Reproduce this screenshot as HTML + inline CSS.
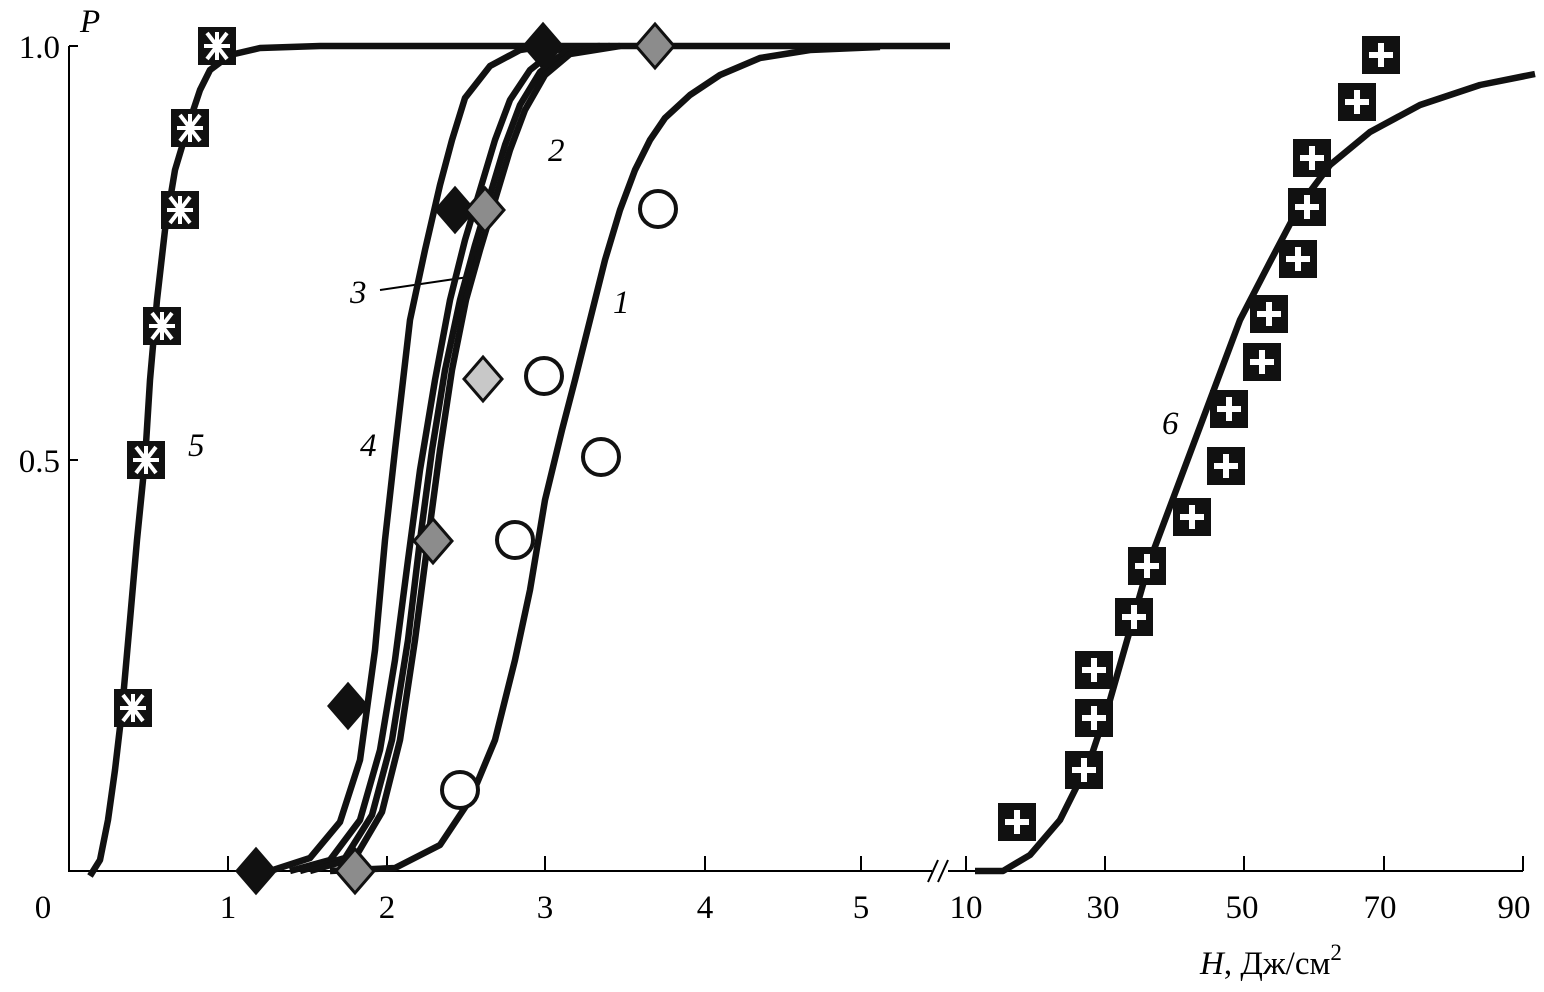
<!DOCTYPE html>
<html><head><meta charset="utf-8"><style>
body{margin:0;background:#fff}
text{font-family:"Liberation Serif",serif;font-size:33px;fill:#000}
.i{font-style:italic}
</style></head><body>
<svg width="1544" height="987" viewBox="0 0 1544 987" xmlns="http://www.w3.org/2000/svg">
<defs>
<g id="sq"><rect x="-19" y="-19" width="38" height="38" fill="#111"/><path d="M-12 0H12M0-12V12" stroke="#fff" stroke-width="6"/></g>
<g id="zh"><rect x="-19" y="-19" width="38" height="38" fill="#111"/><path d="M0-14V14M-10-13L10 13M10-13L-10 13M-13 0H13" stroke="#fff" stroke-width="4"/></g>
<path id="dm" d="M0-22L19 0 0 22-19 0Z" stroke="#111" stroke-width="3"/>
</defs>
<g stroke="#000" stroke-width="2" fill="none">
<path d="M69 46H78M69 46V871H932M948 871H1523M69 460H78"/>
<path d="M228 871V856M387 871V856M545 871V856M705 871V856M861 871V856M966 871V856M1105 871V856M1244 871V856M1384 871V856M1523 871V856"/>
<path d="M928 882L938 860M938 882L948 860"/>
</g>
<text x="60" y="58" text-anchor="end">1.0</text>
<text x="60" y="472" text-anchor="end">0.5</text>
<text x="43" y="918" text-anchor="middle">0</text>
<text x="228" y="918" text-anchor="middle">1</text>
<text x="387" y="918" text-anchor="middle">2</text>
<text x="545" y="918" text-anchor="middle">3</text>
<text x="705" y="918" text-anchor="middle">4</text>
<text x="861" y="918" text-anchor="middle">5</text>
<text x="966" y="918" text-anchor="middle">10</text>
<text x="1103" y="918" text-anchor="middle">30</text>
<text x="1242" y="918" text-anchor="middle">50</text>
<text x="1380" y="918" text-anchor="middle">70</text>
<text x="1514" y="918" text-anchor="middle">90</text>
<text x="1200" y="974"><tspan class="i">H</tspan>, Дж/см<tspan dy="-14" font-size="23">2</tspan></text>
<text x="80" y="32" class="i">P</text>
<text x="188" y="456" class="i">5</text>
<text x="360" y="456" class="i">4</text>
<text x="350" y="303" class="i">3</text>
<path d="M380 290L475 276" stroke="#000" stroke-width="2"/>
<text x="548" y="161" class="i">2</text>
<text x="613" y="313" class="i">1</text>
<text x="1162" y="434" class="i">6</text>
<g stroke="#111" stroke-width="6.5" fill="none" stroke-linejoin="round">
<path d="M90 876L100 860 108 820 115 770 122 710 130 620 137 540 145 460 150 380 157 300 165 230 175 170 190 120 200 90 210 70 230 55 260 48 320 46 950 46"/>
<path d="M270 871L310 858 340 822 360 760 375 650 385 540 395 450 410 320 425 250 440 185 452 140 465 98 490 66 520 50 545 46"/>
<path d="M290 871L330 860 360 820 380 750 395 660 408 560 420 470 435 380 450 300 465 240 480 190 495 140 510 100 530 70 555 50 600 46"/>
<path d="M300 871L345 858 372 815 392 740 408 640 420 540 432 450 445 370 460 300 475 245 490 195 505 145 520 105 540 72 565 52 610 46"/>
<path d="M310 871L355 858 382 812 400 740 415 640 428 540 440 450 452 370 466 300 480 250 495 200 510 150 525 110 545 75 570 54 620 46"/>
<path d="M330 871L395 868 440 845 470 800 495 740 515 660 530 590 545 500 562 430 575 380 590 320 605 260 620 210 635 170 650 140 665 118 690 95 720 75 760 58 810 50 880 47"/>
<path d="M975 871L1003 871 1030 855 1060 820 1090 760 1110 700 1130 630 1150 560 1180 480 1210 400 1240 320 1270 262 1300 205 1330 165 1370 132 1420 105 1480 85 1535 74"/>
</g>
<g>
<use href="#sq" x="1017" y="822"/><use href="#sq" x="1084" y="770"/><use href="#sq" x="1094" y="718"/><use href="#sq" x="1094" y="670"/><use href="#sq" x="1134" y="617"/><use href="#sq" x="1147" y="566"/><use href="#sq" x="1192" y="517"/><use href="#sq" x="1226" y="466"/><use href="#sq" x="1229" y="409"/><use href="#sq" x="1262" y="362"/><use href="#sq" x="1269" y="314"/><use href="#sq" x="1298" y="259"/><use href="#sq" x="1307" y="207"/><use href="#sq" x="1312" y="158"/><use href="#sq" x="1357" y="102"/><use href="#sq" x="1381" y="55"/>
<use href="#zh" x="217" y="46"/><use href="#zh" x="190" y="128"/><use href="#zh" x="180" y="210"/><use href="#zh" x="162" y="326"/><use href="#zh" x="146" y="460"/><use href="#zh" x="133" y="708"/>
<use href="#dm" x="256" y="871" fill="#111"/><use href="#dm" x="348" y="706" fill="#111"/><use href="#dm" x="455" y="210" fill="#111"/><use href="#dm" x="543" y="46" fill="#111"/>
<use href="#dm" x="355" y="871" fill="#8c8c8c"/><use href="#dm" x="433" y="541" fill="#8c8c8c"/><use href="#dm" x="485" y="210" fill="#8c8c8c"/><use href="#dm" x="655" y="46" fill="#8c8c8c"/>
<use href="#dm" x="483" y="379" fill="#c8c8c8"/>
<g fill="#fff" stroke="#111" stroke-width="4">
<circle cx="460" cy="790" r="18"/><circle cx="515" cy="540" r="18"/><circle cx="544" cy="376" r="18"/><circle cx="601" cy="457" r="18"/><circle cx="658" cy="209" r="18"/>
</g>
</g>
</svg>
</body></html>
